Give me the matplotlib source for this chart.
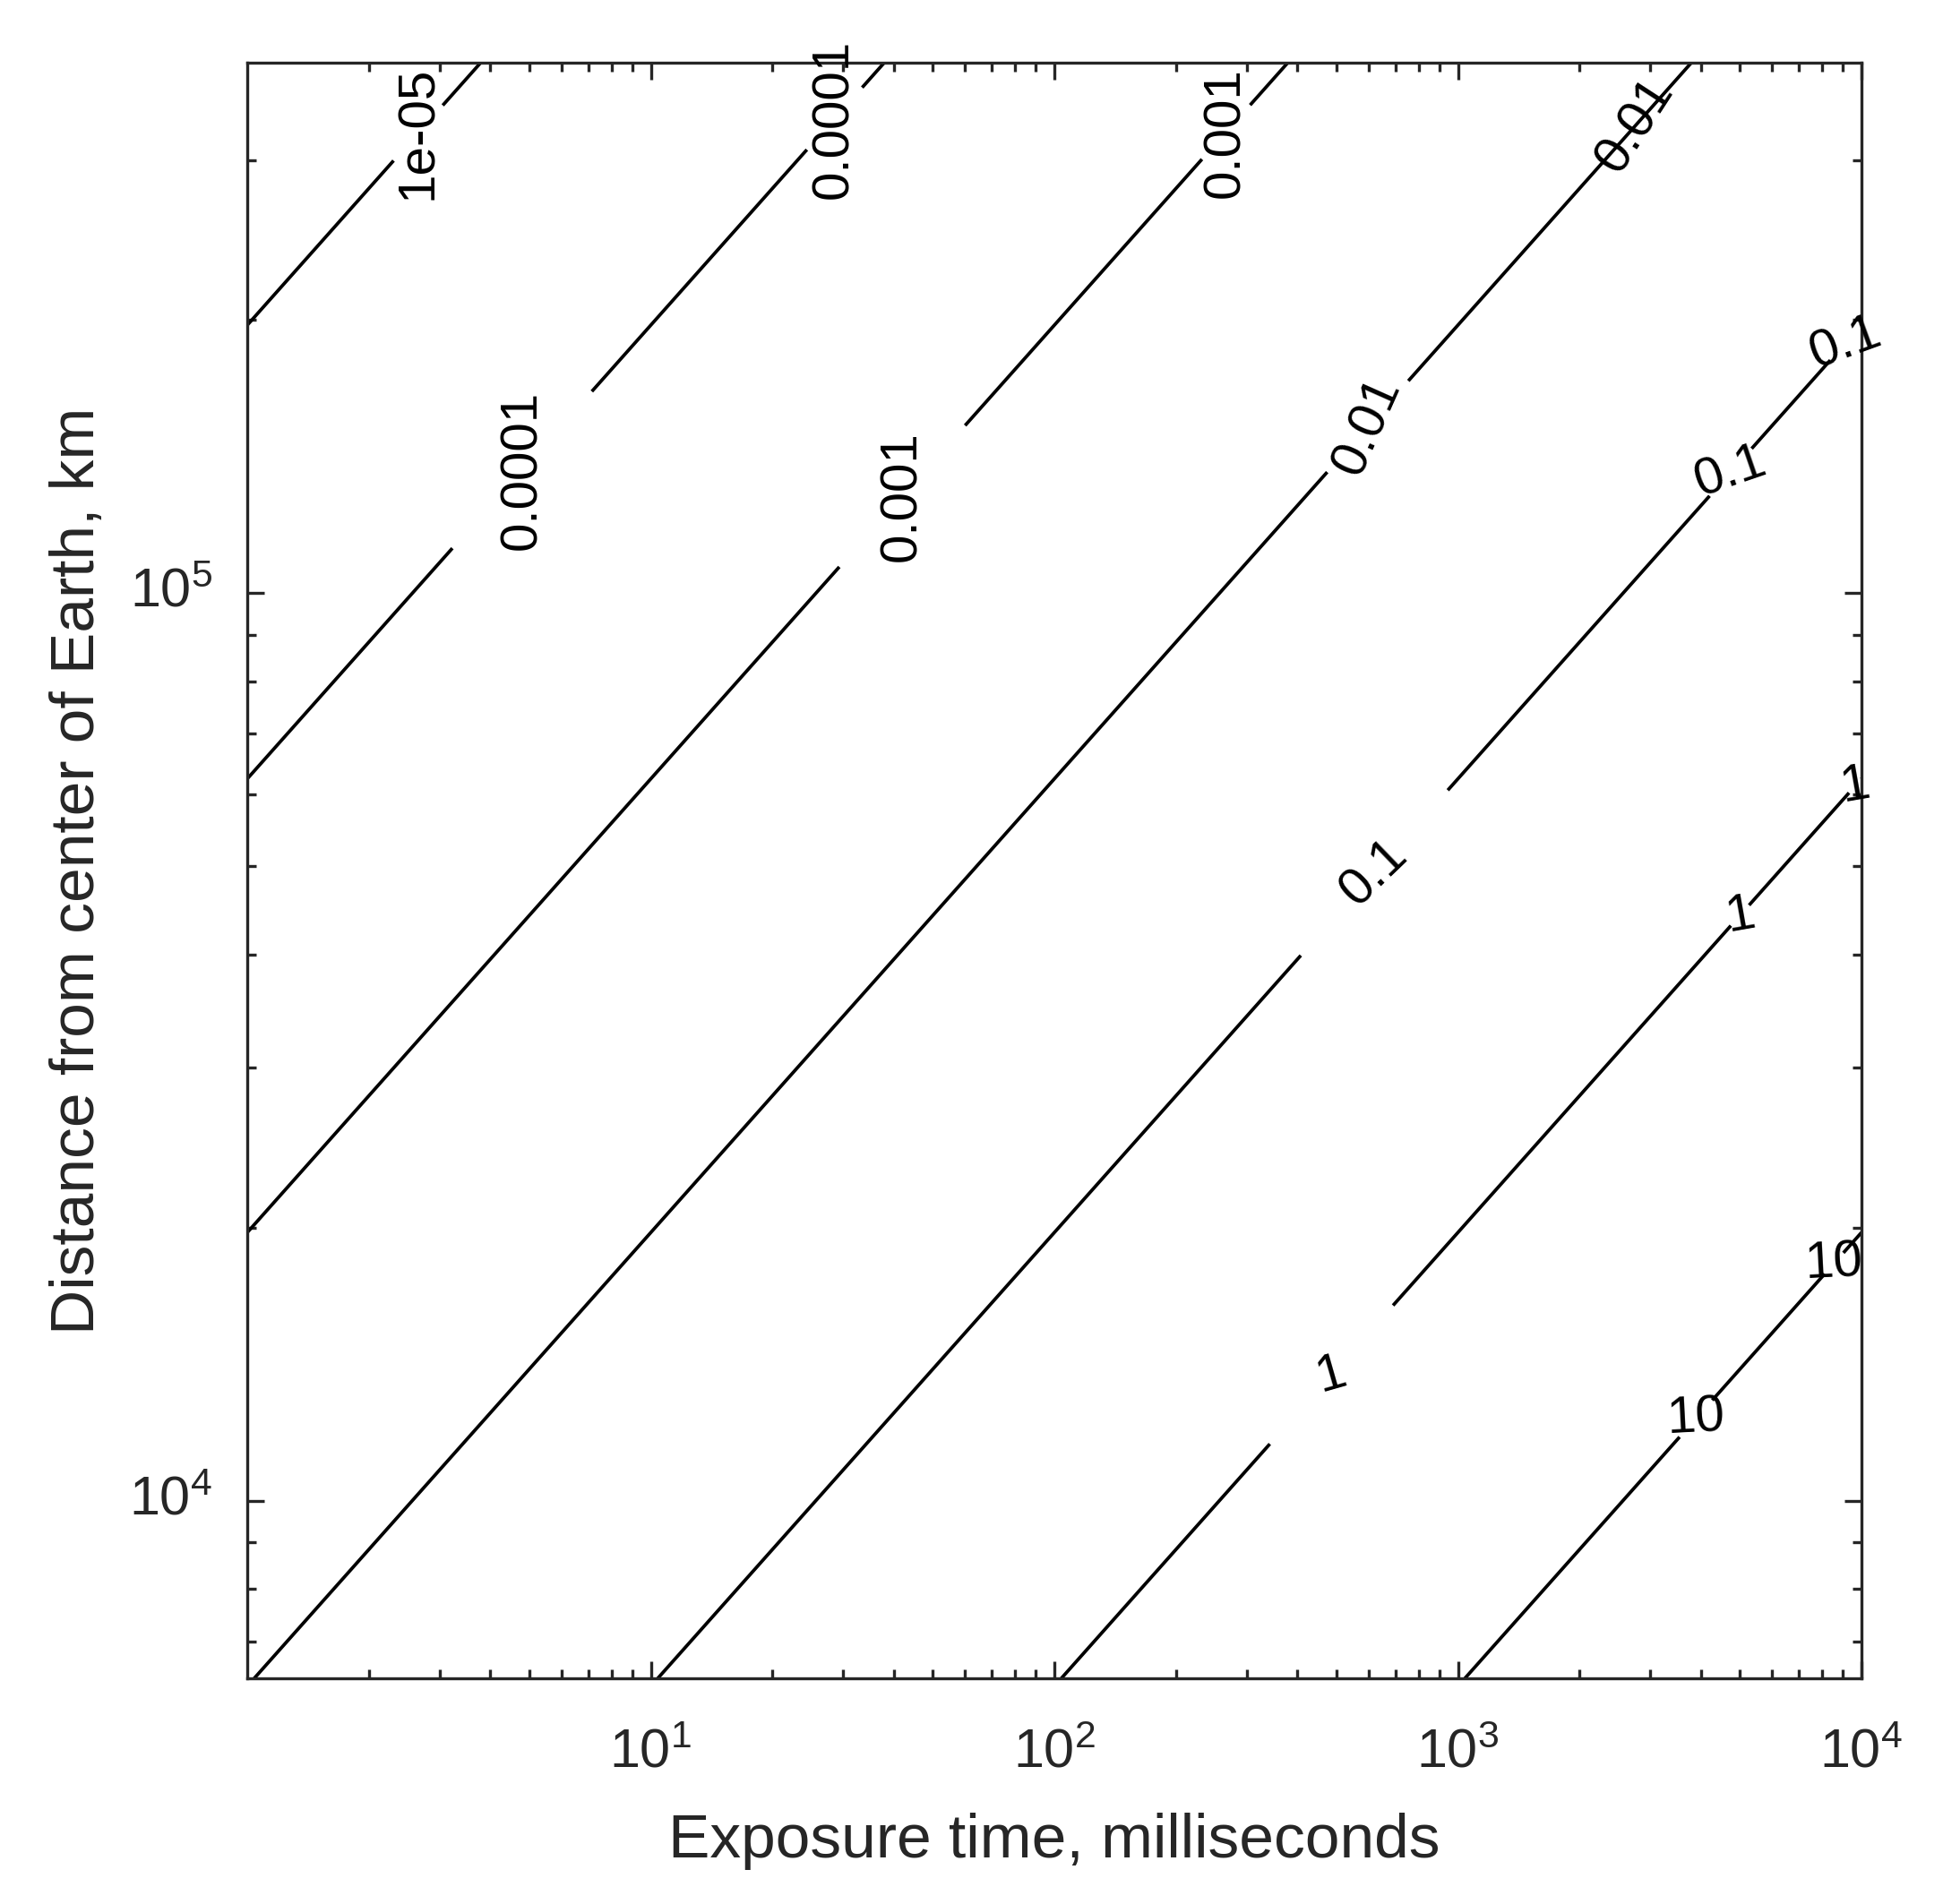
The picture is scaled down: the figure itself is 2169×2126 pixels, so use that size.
import numpy as np
import matplotlib
matplotlib.use('Agg')
import matplotlib.pyplot as plt
from matplotlib.ticker import LogLocator, FixedLocator, FuncFormatter

plt.rcParams['font.family'] = ['Liberation Sans', 'DejaVu Sans']

# ---------------- data ----------------
levels = [1e-5, 1e-4, 1e-3, 1e-2, 1e-1, 1, 10]
level_text = {1e-5: '1e-05', 1e-4: '0.0001', 1e-3: '0.001', 1e-2: '0.01',
              1e-1: '0.1', 1: '1', 10: '10'}
t_range = [1, 1e4]            # exposure time, ms
d_range = [6371, 384400]      # distance from centre of Earth, km
K = 3.9e5                     # value = K * t / d^2

x_major = [10, 100, 1000, 10000]
y_major = [1e4, 1e5]

# contour label placements (level, exposure time at label centre)
label_level = [1e-5, 1e-4, 1e-4, 1e-3, 1e-3, 1e-2, 1e-2, 0.1, 0.1, 0.1, 1, 1, 1, 10, 10]
label_t = [2.65, 28.5, 4.8, 42, 266, 598, 2760, 620, 4743, 9130, 486, 5003, 9638, 3889, 8550]
label_rot = [90, 90, 90, 90, 90, 66, 57, 44, 19, 20, 16, 10, 10, 3, 3]
label_gap = [41, 46, 117, 105, 40, 68, 0, 123, 35, 25, 103, 15, 10, 27, 15]  # px half-gap

# ---------------- figure ----------------
W, H, DPI = 2169, 2126, 200
fig = plt.figure(figsize=(W / DPI, H / DPI), dpi=DPI)
L, R, T_, B = 276, 2078, 70, 1874
ax = fig.add_axes([L / W, 1 - B / H, (R - L) / W, (B - T_) / H])
ax.set_xscale('log')
ax.set_yscale('log')
ax.set_xlim(t_range)
ax.set_ylim(d_range)

tt = np.logspace(np.log10(t_range[0]), np.log10(t_range[1]), 1500)
dd = np.logspace(np.log10(d_range[0]), np.log10(d_range[1]), 1500)
TT, DD = np.meshgrid(tt, dd)
Z = K * TT / DD ** 2

pts = ax.transData.transform(np.column_stack([TT.ravel(), DD.ravel()])).reshape(TT.shape + (2,))
mask = np.zeros(Z.shape, dtype=bool)
centres = []
for lvl, tc, gap in zip(label_level, label_t, label_gap):
    dc = np.sqrt(K * tc / lvl)
    centres.append((tc, dc))
    if gap <= 0:
        continue
    cx, cy = ax.transData.transform((tc, dc))
    mask |= (pts[..., 0] - cx) ** 2 + (pts[..., 1] - cy) ** 2 < gap ** 2
Zm = np.ma.array(Z, mask=mask)

ax.contour(TT, DD, Zm, levels=levels, colors='k', linewidths=1.35, zorder=2)

for lvl, (tc, dc), rot in zip(label_level, centres, label_rot):
    ax.text(tc, dc, level_text[lvl], fontsize=21, color='k', rotation=rot,
            rotation_mode='anchor', ha='center', va='center', zorder=3, clip_on=False)

# ---------------- axes styling ----------------
gray = '#262626'
ax.xaxis.set_major_locator(FixedLocator(x_major))
ax.yaxis.set_major_locator(FixedLocator(y_major))
ax.xaxis.set_minor_locator(LogLocator(base=10, subs=np.arange(2, 10), numticks=50))
ax.yaxis.set_minor_locator(LogLocator(base=10, subs=np.arange(2, 10), numticks=50))
fmt = FuncFormatter(lambda v, p: r'$\mathregular{10^{%d}}$' % int(round(np.log10(v))))
ax.xaxis.set_major_formatter(fmt)
ax.yaxis.set_major_formatter(fmt)
ax.xaxis.set_minor_formatter(FuncFormatter(lambda v, p: ''))
ax.yaxis.set_minor_formatter(FuncFormatter(lambda v, p: ''))

ax.tick_params(which='both', direction='in', top=True, right=True, color=gray,
               labelcolor=gray, width=1.2, labelsize=22)
ax.tick_params(which='major', length=7)
ax.tick_params(which='minor', length=3.5)
ax.tick_params(axis='x', which='major', pad=20)
ax.tick_params(axis='y', which='major', pad=14)
for lbl in ax.get_yticklabels():
    lbl.set_va('center')
for s in ax.spines.values():
    s.set_color(gray)
    s.set_linewidth(1.2)

ax.set_xlabel('Exposure time, milliseconds', fontsize=25, color=gray)
ax.set_ylabel('Distance from center of Earth, km', fontsize=25, color=gray)
ax.xaxis.set_label_coords(0.5, -0.083)
ax.yaxis.set_label_coords(-0.087, 0.5)

fig.savefig('out.png', dpi=DPI)
